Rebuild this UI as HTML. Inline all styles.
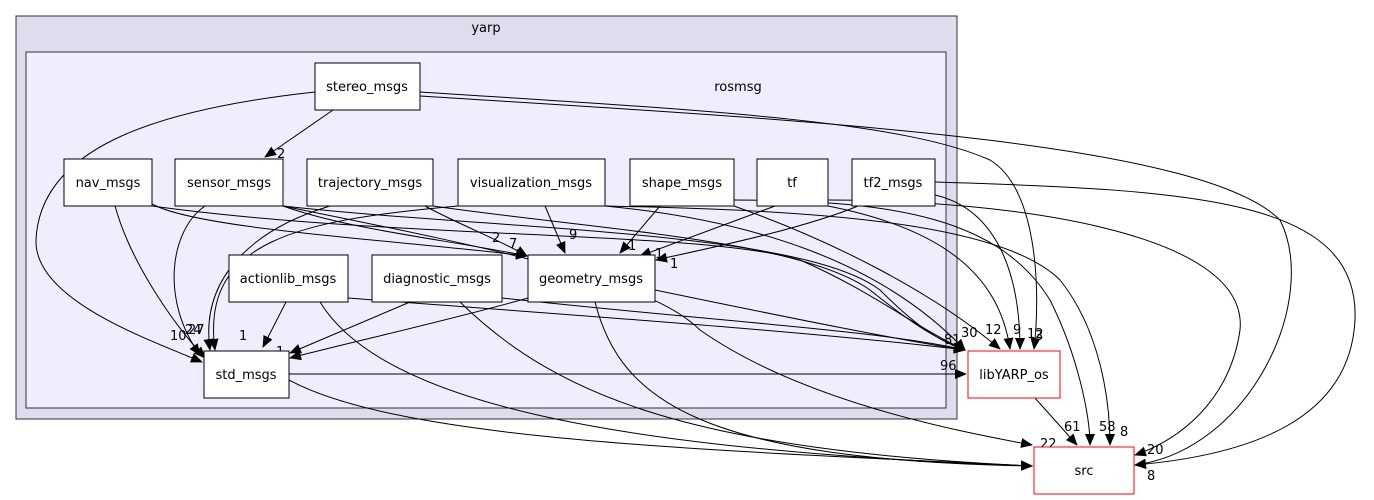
<!DOCTYPE html>
<html><head><meta charset="utf-8"><style>
html,body{margin:0;padding:0;background:#fff;}
svg{display:block;font-family:"DejaVu Sans","Liberation Sans",sans-serif;}
.n{fill:#fff;stroke:#000;stroke-width:1}
.r{fill:#fff;stroke:#f00;stroke-width:1}
.e{fill:none;stroke:#000;stroke-width:1}
.t{font-size:13px;text-anchor:middle}
.l{font-size:13px}
</style></head><body>
<svg width="1374" height="500" viewBox="0 0 1374 500">
<defs><marker id="a" markerWidth="12" markerHeight="10" refX="11" refY="5" orient="auto" markerUnits="userSpaceOnUse"><path d="M0,0 L12,5 L0,10 z" fill="#000"/></marker></defs>
<rect x="16" y="16" width="941" height="403" fill="#ddddee" stroke="#333"/>
<text x="486" y="32" class="t">yarp</text>
<rect x="26" y="52" width="920" height="356" fill="#eeeeff" stroke="#333"/>
<text x="738" y="91" class="t">rosmsg</text>
<g marker-end="url(#a)">
<path class="e" d="M333,110 L265,157"/>
<path class="e" d="M315,92 C150,110 40,150 36,240 C34,300 150,340 202,362"/>
<path class="e" d="M420,92 C700,110 900,120 990,160 C1040,190 1040,300 1034,349"/>
<path class="e" d="M420,96 C800,120 1200,140 1280,220 C1320,300 1250,450 1135,465"/>
<path class="e" d="M115,206 C130,260 170,320 205,358"/>
<path class="e" d="M152,204 C200,230 400,240 527,256"/>
<path class="e" d="M152,206 C400,240 700,230 800,260 C870,290 920,330 965,350"/>
<path class="e" d="M205,206 C170,230 160,300 200,355"/>
<path class="e" d="M283,206 C350,230 450,240 527,256"/>
<path class="e" d="M283,206 C500,230 800,230 880,290 C910,320 935,340 965,350"/>
<path class="e" d="M283,206 C500,250 650,280 700,330 C800,400 950,430 1032,445"/>
<path class="e" d="M330,206 C250,230 200,280 210,350"/>
<path class="e" d="M425,206 C460,225 500,240 527,256"/>
<path class="e" d="M433,206 C600,230 800,240 870,290 C920,330 940,340 965,350"/>
<path class="e" d="M458,206 C300,220 200,240 215,350"/>
<path class="e" d="M545,206 L565,253"/>
<path class="e" d="M605,206 C750,220 880,260 965,350"/>
<path class="e" d="M605,206 C800,210 1000,220 1060,280 C1100,330 1110,400 1110,445"/>
<path class="e" d="M660,206 L620,253"/>
<path class="e" d="M734,206 C830,240 930,290 1000,349"/>
<path class="e" d="M734,200 C900,200 1000,220 1050,300 C1080,360 1090,420 1090,445"/>
<path class="e" d="M775,206 L640,256"/>
<path class="e" d="M828,206 C950,230 1000,280 1010,349"/>
<path class="e" d="M828,200 C1000,200 1250,230 1240,330 C1230,400 1180,440 1135,455"/>
<path class="e" d="M858,206 C800,230 700,250 656,260"/>
<path class="e" d="M935,195 C1000,210 1020,280 1020,349"/>
<path class="e" d="M935,182 C1200,190 1360,200 1355,320 C1350,420 1250,455 1135,465"/>
<path class="e" d="M310,255 L263,347"/>
<path class="e" d="M348,298 C500,310 800,330 965,350"/>
<path class="e" d="M320,302 C380,400 600,450 1032,466"/>
<path class="e" d="M410,302 L290,353"/>
<path class="e" d="M502,298 C700,320 880,330 965,350"/>
<path class="e" d="M460,302 C560,400 700,450 1032,466"/>
<path class="e" d="M528,298 C450,320 360,340 290,358"/>
<path class="e" d="M655,290 C800,320 900,340 965,350"/>
<path class="e" d="M595,302 C620,400 700,460 1032,466"/>
<path class="e" d="M289,374 L966,374"/>
<path class="e" d="M289,380 C400,440 700,450 1032,466"/>
<path class="e" d="M1035,398 L1077,445"/>
</g>
<g class="l">
<text x="277" y="158">2</text><text x="170" y="340">10</text><text x="185" y="334">24</text><text x="188" y="334">27</text>
<text x="239" y="340">1</text><text x="276" y="356">1</text><text x="272" y="370">14</text>
<text x="509" y="248">7</text><text x="492" y="242">2</text><text x="569" y="239">9</text><text x="628" y="250">1</text><text x="655" y="258">1</text><text x="670" y="268">1</text>
<text x="944" y="344">81</text><text x="961" y="337">30</text><text x="985" y="334">12</text><text x="1013" y="334">9</text><text x="1027" y="338">12</text><text x="1035" y="340">3</text>
<text x="940" y="370">96</text><text x="1064" y="431">61</text><text x="1099" y="431">58</text><text x="1120" y="436">8</text>
<text x="1040" y="448">22</text><text x="1035" y="463">56</text><text x="1147" y="454">20</text><text x="1147" y="480">8</text>
</g>
<rect class="n" x="315" y="63" width="105" height="47"/><text x="367" y="91" class="t">stereo_msgs</text>
<rect class="n" x="64" y="159" width="88" height="47"/><text x="108" y="187" class="t">nav_msgs</text>
<rect class="n" x="175" y="159" width="108" height="47"/><text x="229" y="187" class="t">sensor_msgs</text>
<rect class="n" x="307" y="159" width="126" height="47"/><text x="370" y="187" class="t">trajectory_msgs</text>
<rect class="n" x="458" y="159" width="147" height="47"/><text x="531" y="187" class="t">visualization_msgs</text>
<rect class="n" x="630" y="159" width="104" height="47"/><text x="682" y="187" class="t">shape_msgs</text>
<rect class="n" x="757" y="159" width="71" height="47"/><text x="792" y="187" class="t">tf</text>
<rect class="n" x="852" y="159" width="83" height="47"/><text x="893" y="187" class="t">tf2_msgs</text>
<rect class="n" x="229" y="255" width="119" height="47"/><text x="288" y="283" class="t">actionlib_msgs</text>
<rect class="n" x="372" y="255" width="130" height="47"/><text x="437" y="283" class="t">diagnostic_msgs</text>
<rect class="n" x="528" y="255" width="127" height="47"/><text x="591" y="283" class="t">geometry_msgs</text>
<rect class="n" x="204" y="351" width="85" height="47"/><text x="246" y="379" class="t">std_msgs</text>
<rect class="r" x="968" y="351" width="92" height="47"/><text x="1014" y="379" class="t">libYARP_os</text>
<rect class="r" x="1034" y="447" width="100" height="47"/><text x="1084" y="475" class="t">src</text>
</svg>
</body></html>
